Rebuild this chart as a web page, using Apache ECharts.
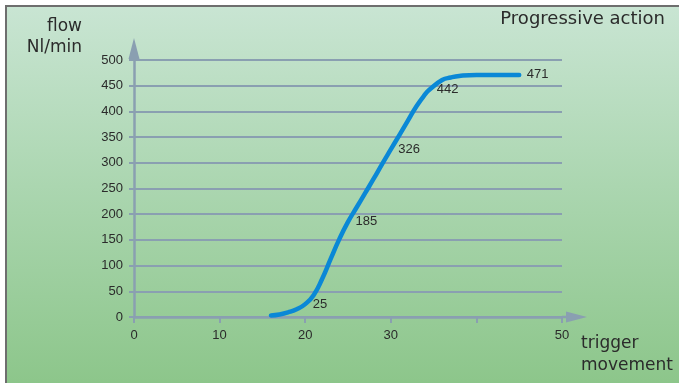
<!DOCTYPE html>
<html>
<head>
<meta charset="utf-8">
<script src="https://cdn.jsdelivr.net/npm/echarts@6/dist/echarts.min.js"></script>
<style>
  html, body { margin: 0; padding: 0; background: #ffffff; }
  #chart { width: 679px; height: 383px; }
</style>
</head>
<body>
<div id="chart"></div>
<script>
// Trigger movement (x) against flow in Nl/min (y), sampled along the curve
const triggerMovement = [16, 17, 18, 19, 20, 21, 22, 23, 24, 25, 26, 27, 28, 29, 30, 31, 32, 33, 34, 34.5, 36, 37, 38, 40, 42, 45];
const flowNlMin      = [3, 5, 9, 15, 25, 43, 75, 114, 152, 185, 213, 241, 269, 298, 326, 354, 382, 410, 433, 442, 461, 466, 469, 471, 471, 471];
// Points whose flow value is written next to the curve
const labelledMovement = [20, 25, 30, 34.5, 45];

const xTicks = [0, 10, 20, 30, 40, 50];
const xTickLabels = ['0', '10', '20', '30', '', '50'];

const axisColor = '#8a9fb1';
const textColor = '#2b2b2b';
const font = 'Liberation Sans, Arial, sans-serif';
const titleFont = '17px DejaVu Sans, sans-serif';

const curveData = triggerMovement.map((x, i) => ({
  value: [x, flowNlMin[i]],
  label: { show: labelledMovement.includes(x) }
}));

const chart = echarts.init(document.getElementById('chart'), null, { renderer: 'canvas' });

const staticGraphics = [
  {
    id: 'panel',
    type: 'rect',
    z: -10,
    shape: { x: 6, y: 6, width: 690, height: 400 },
    style: {
      fill: new echarts.graphic.LinearGradient(0, 0, 0, 1, [
        { offset: 0, color: '#c9e5d3' },
        { offset: 0.45, color: '#abd6b0' },
        { offset: 1, color: '#89c486' }
      ]),
      stroke: '#6e6e6e',
      lineWidth: 2
    }
  },
  {
    id: 'yName',
    type: 'text',
    style: {
      x: 82, y: 16,
      text: 'flow\nNl/min',
      align: 'right',
      verticalAlign: 'top',
      font: titleFont,
      lineHeight: 21,
      fill: textColor
    }
  },
  {
    id: 'title',
    type: 'text',
    style: {
      x: 665, y: 10,
      text: 'Progressive action',
      align: 'right',
      verticalAlign: 'top',
      font: '18px DejaVu Sans, sans-serif',
      fill: textColor
    }
  },
  {
    id: 'xName',
    type: 'text',
    style: {
      x: 581, y: 333,
      text: 'trigger\nmovement',
      align: 'left',
      verticalAlign: 'top',
      font: titleFont,
      lineHeight: 22,
      fill: textColor
    }
  }
];

chart.setOption({
  animation: false,
  backgroundColor: '#ffffff',
  textStyle: { fontFamily: font },
  graphic: staticGraphics,
  grid: { left: 134, right: 117, top: 60, bottom: 66, containLabel: false },
  xAxis: {
    type: 'value',
    min: 0,
    max: 50,
    interval: 10,
    axisLine: { show: true, lineStyle: { color: axisColor, width: 2.5 } },
    axisTick: { show: true, length: 6, lineStyle: { color: axisColor, width: 2 } },
    axisLabel: {
      margin: 12,
      fontSize: 13,
      color: textColor,
      formatter: v => xTickLabels[xTicks.indexOf(v)] ?? ''
    },
    splitLine: { show: false }
  },
  yAxis: {
    type: 'value',
    min: 0,
    max: 500,
    interval: 50,
    axisLine: { show: true, lineStyle: { color: axisColor, width: 2.5 } },
    axisTick: { show: true, length: 5, lineStyle: { color: axisColor, width: 2 } },
    axisLabel: { margin: 11, fontSize: 13, color: textColor },
    splitLine: { show: true, lineStyle: { color: axisColor, width: 2 } }
  },
  series: [
    {
      type: 'line',
      data: curveData,
      smooth: 0.5,
      showSymbol: true,
      showAllSymbol: true,
      symbol: 'circle',
      symbolSize: 1,
      itemStyle: { color: 'transparent', borderWidth: 0 },
      lineStyle: { color: '#0a88d6', width: 4.5, cap: 'round' },
      label: {
        position: 'right',
        distance: 7,
        fontSize: 13,
        color: textColor,
        formatter: p => String(p.value[1])
      }
    }
  ]
});

// Arrowheads at the ends of both axes, placed from the axis scales
const yEnd = chart.convertToPixel({ gridIndex: 0 }, [0, 500]);
const xEnd = chart.convertToPixel({ gridIndex: 0 }, [50, 0]);
chart.setOption({
  graphic: staticGraphics.concat([
    {
      id: 'yArrow',
      type: 'polygon',
      z: 5,
      shape: { points: [[yEnd[0], yEnd[1] - 22], [yEnd[0] - 5.5, yEnd[1] - 1], [yEnd[0] + 5.5, yEnd[1] - 1]] },
      style: { fill: axisColor }
    },
    {
      id: 'xArrowStem',
      type: 'line',
      z: 5,
      shape: { x1: xEnd[0], y1: xEnd[1], x2: xEnd[0] + 6, y2: xEnd[1] },
      style: { stroke: axisColor, lineWidth: 2.5 }
    },
    {
      id: 'xArrow',
      type: 'polygon',
      z: 5,
      shape: { points: [[xEnd[0] + 25, xEnd[1]], [xEnd[0] + 4, xEnd[1] - 5.5], [xEnd[0] + 4, xEnd[1] + 5.5]] },
      style: { fill: axisColor }
    }
  ])
});
</script>
</body>
</html>
